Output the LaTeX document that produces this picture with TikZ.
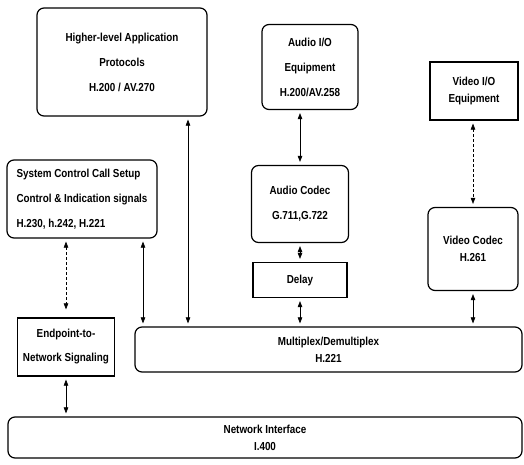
\documentclass[tikz,border=0pt]{standalone}
\usepackage{fontspec}
\setmainfont{Liberation Sans}[FakeStretch=0.85]
\usetikzlibrary{arrows.meta}

\tikzset{
  blk/.style={draw=black,line width=1.2pt,rounded corners=7pt,align=center,
    inner sep=0pt,font=\bfseries\fontsize{11.6}{25}\selectfont},
  sqblk/.style={blk,rounded corners=0pt},
  tight/.style={font=\bfseries\fontsize{11.6}{17}\selectfont},
  link/.style={{Triangle[length=6pt,width=4.5pt]}-{Triangle[length=6pt,width=4.5pt]},
    line width=0.6pt,shorten <=3pt,shorten >=3pt},
  dlink/.style={link,dash pattern=on 3pt off 2pt}
}

\begin{document}
\begin{tikzpicture}[x=1pt,y=-1pt]
  \useasboundingbox (0,0) rectangle (524,465);

  % Upper row
  \node[blk,minimum width=170pt,minimum height=108pt] (hlp) at (122,62)
    {Higher-level Application\\Protocols\\H.200 / AV.270};
  \node[blk,minimum width=96pt,minimum height=85pt] (aio) at (310,67)
    {Audio I/O\\Equipment\\H.200/AV.258};
  \node[sqblk,tight,minimum width=88pt,minimum height=58pt] (vio) at (474,91)
    {Video I/O\\Equipment};

  % Middle row
  \node[blk,align=left,minimum width=150pt,minimum height=78pt] (sysc) at (82,199)
    {System Control Call Setup\\Control \& Indication signals\\H.230, h.242, H.221};
  \node[blk,minimum width=97pt,minimum height=77pt] (acod) at (300,204)
    {Audio Codec\\G.711,G.722};
  \node[sqblk,minimum width=94pt,minimum height=35pt] (dly) at (300,280) {Delay};
  \node[blk,tight,minimum width=90pt,minimum height=83pt] (vcod) at (473,249)
    {Video Codec\\H.261};

  % Lower rows
  \node[sqblk,font=\bfseries\fontsize{11.6}{24}\selectfont,
    minimum width=97pt,minimum height=58pt] (ens) at (66,347)
    {Endpoint-to-\\Network Signaling};
  \node[blk,tight,minimum width=387pt,minimum height=45pt] (mux) at (328.5,349.5)
    {Multiplex/Demultiplex\\H.221};
  \node[blk,tight,minimum width=514pt,minimum height=41pt] (nif) at (265,437.5)
    {Network Interface\\I.400};

  % Connectors
  \draw[link] ([xshift=66pt]hlp.south) -- ([xshift=66pt]hlp.south |- mux.north);
  \draw[link] ([xshift=61pt]sysc.south) -- ([xshift=61pt]sysc.south |- mux.north);
  \draw[dlink,shorten >=8pt] (ens.north |- sysc.south) -- (ens.north);
  \draw[link] (ens.south) -- (ens.south |- nif.north);
  \draw[link] (acod.north |- aio.south) -- (acod.north);
  \draw[link] (acod.south) -- (dly.north);
  \draw[link] (dly.south) -- (dly.south |- mux.north);
  \draw[dlink] (vcod.north |- vio.south) -- (vcod.north);
  \draw[link] (vcod.south) -- (vcod.south |- mux.north);
\end{tikzpicture}
\end{document}
